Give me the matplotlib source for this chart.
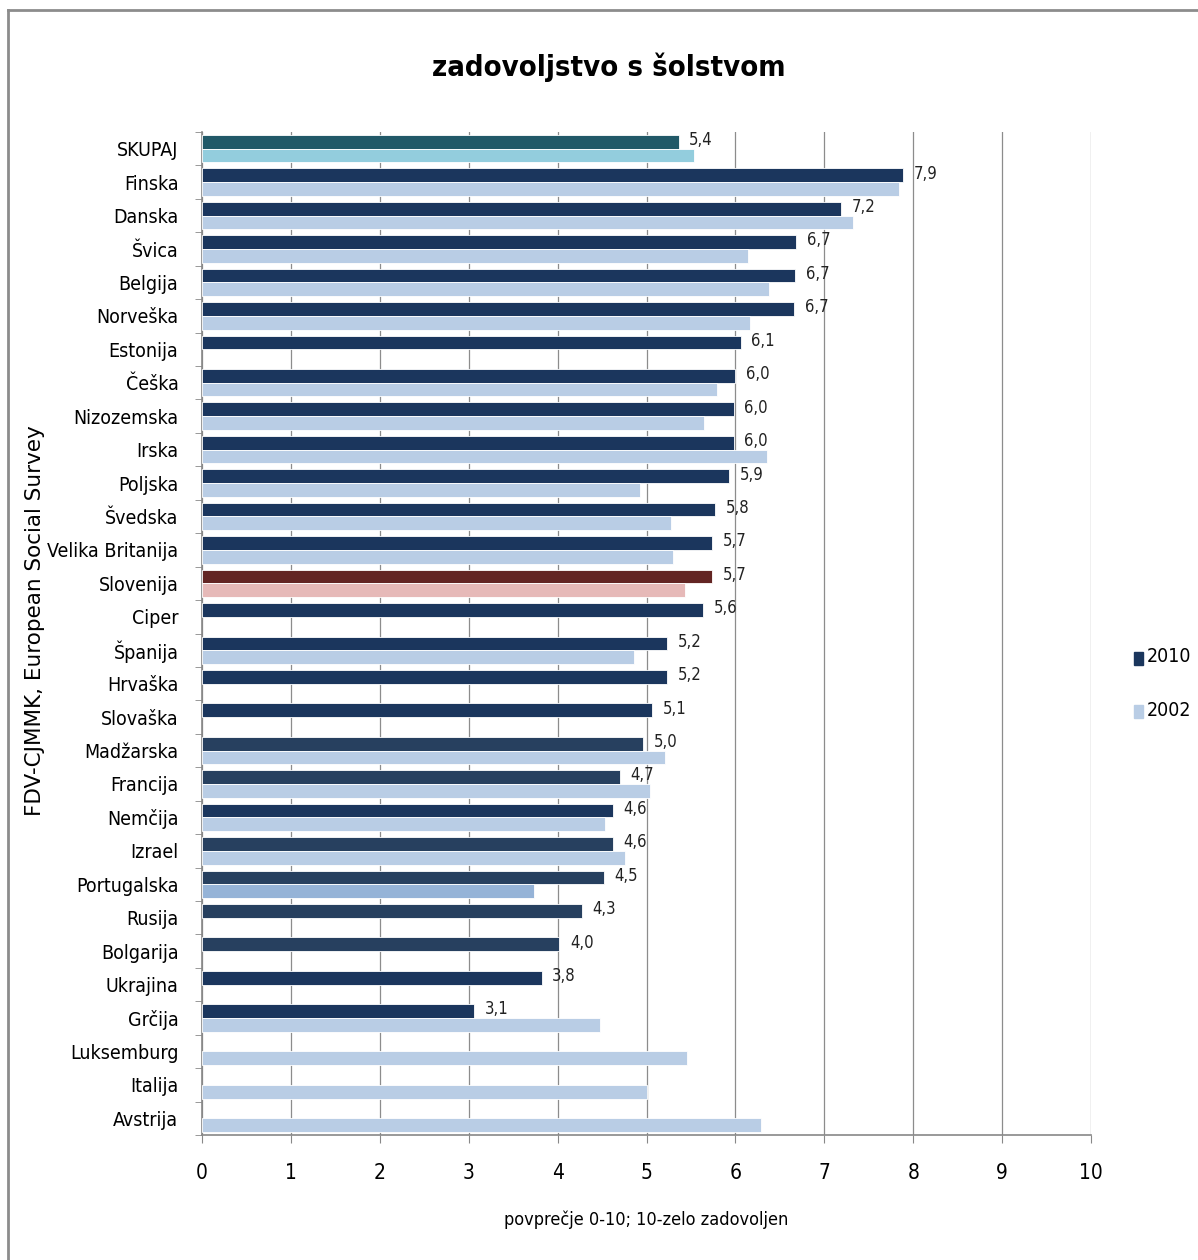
import matplotlib.pyplot as plt
from matplotlib import font_manager
import numpy as np

countries = ["SKUPAJ", "Finska", "Danska", "Švica", "Belgija", "Norveška", "Estonija",
             "Češka", "Nizozemska", "Irska", "Poljska", "Švedska", "Velika Britanija",
             "Slovenija", "Ciper", "Španija", "Hrvaška", "Slovaška", "Madžarska",
             "Francija", "Nemčija", "Izrael", "Portugalska", "Rusija", "Bolgarija",
             "Ukrajina", "Grčija", "Luksemburg", "Italija", "Avstrija"]
v2010 = [5.36, 7.89, 7.19, 6.68, 6.67, 6.66, 6.06, 6.00, 5.98, 5.98, 5.93, 5.77, 5.74,
         5.74, 5.64, 5.23, 5.23, 5.06, 4.96, 4.70, 4.62, 4.62, 4.52, 4.27, 4.02, 3.82,
         3.06, None, None, None]
v2002 = [5.53, 7.84, 7.32, 6.14, 6.38, 6.16, None, 5.79, 5.65, 6.36, 4.93, 5.28, 5.30,
         5.43, None, 4.86, None, None, 5.21, 5.04, 4.53, 4.76, 3.73, None, None, None,
         4.48, 5.46, 5.00, 6.29]
xticks = [0, 1, 2, 3, 4, 5, 6, 7, 8, 9, 10]

# look for a narrow font (the original uses Calibri, which is narrow)
files = [f.fname for f in font_manager.fontManager.ttflist]
files += font_manager.findSystemFonts()
reg = None
bold = None
for key in ["LiberationSansNarrow-Regular", "DejaVuSansCondensed.ttf"]:
    hit = [f for f in files if key in f]
    if hit:
        reg = hit[0]
        break
for key in ["LiberationSansNarrow-Bold.", "DejaVuSansCondensed-Bold.ttf"]:
    hit = [f for f in files if key in f]
    if hit:
        bold = hit[0]
        break


def fp(size, b=False):
    if b and bold:
        return font_manager.FontProperties(fname=bold, size=size)
    if not b and reg:
        return font_manager.FontProperties(fname=reg, size=size)
    return font_manager.FontProperties(family="Liberation Sans", size=size * 0.88,
                                       weight="bold" if b else "normal")


c10 = "#1B365D"
c02 = "#B9CDE5"
c10_list = [c10] * len(countries)
c02_list = [c02] * len(countries)
c10_list[0], c02_list[0] = "#215968", "#93CDDD"
c10_list[13], c02_list[13] = "#632523", "#E6B9B8"
for i in [18, 19, 21, 22, 23, 24]:
    c10_list[i] = "#27405F"
c02_list[22] = "#95B3D7"

fig = plt.figure(figsize=(11.98, 12.6), dpi=100)
ax = fig.add_axes([202 / 1198, 1 - 1135 / 1260, 889 / 1198, 1003 / 1260])

y = np.arange(len(countries))
h = 0.41
for i in range(len(countries)):
    if v2010[i] is not None:
        ax.barh(y[i] - h / 2, v2010[i], height=h, color=c10_list[i],
                edgecolor="white", linewidth=0.6, zorder=3)
        lab = ("%.1f" % v2010[i]).replace(".", ",")
        ax.text(v2010[i] + 0.12, y[i] - h / 2 - 0.05, lab, va="center", ha="left",
                fontproperties=fp(12), color="#222222", zorder=4)
    if v2002[i] is not None:
        ax.barh(y[i] + h / 2, v2002[i], height=h, color=c02_list[i],
                edgecolor="white", linewidth=0.6, zorder=3)

ax.set_xlim(0, 10)
ax.set_ylim(len(countries) - 0.5, -0.5)
ax.set_xticks(xticks)
ax.set_xticklabels([str(t) for t in xticks])
for t in ax.get_xticklabels():
    t.set_fontproperties(fp(15))
ax.set_yticks(y)
ax.set_yticklabels(countries)
for t in ax.get_yticklabels():
    t.set_fontproperties(fp(14))
ax.set_yticks(np.arange(len(countries) + 1) - 0.5, minor=True)
ax.tick_params(axis="y", which="major", length=0, pad=17)
ax.tick_params(axis="y", which="minor", length=5, color="#888888")
ax.tick_params(axis="x", length=6, color="#888888", pad=14)
ax.grid(axis="x", color="#8c8c8c", linewidth=0.9, zorder=0)
for s in ["top", "right"]:
    ax.spines[s].set_visible(False)
for s in ["left", "bottom"]:
    ax.spines[s].set_color("#888888")
    ax.spines[s].set_linewidth(1.2)

ax.set_xlabel("povprečje 0-10; 10-zelo zadovoljen", fontproperties=fp(13), labelpad=20)
fig.text(0.508, 1 - 67 / 1260, "zadovoljstvo s šolstvom", ha="center", va="center",
         fontproperties=fp(21, True))
fig.text(35 / 1198, 1 - 621 / 1260, "FDV-CJMMK, European Social Survey",
         rotation=90, ha="center", va="center", fontsize=15.5,
         family=["DejaVu Sans"])

# legend
fig.patches.append(plt.Rectangle((1134 / 1198, 1 - 665 / 1260), 9 / 1198, 13 / 1260,
                                 color=c10, transform=fig.transFigure))
fig.patches.append(plt.Rectangle((1134 / 1198, 1 - 718 / 1260), 9 / 1198, 13 / 1260,
                                 color=c02, transform=fig.transFigure))
fig.text(1147 / 1198, 1 - 657 / 1260, "2010", va="center", fontproperties=fp(14))
fig.text(1147 / 1198, 1 - 710 / 1260, "2002", va="center", fontproperties=fp(14))

# frame
fig.add_artist(plt.Line2D([8 / 1198, 8 / 1198], [0, 1 - 10 / 1260], color="#8c8c8c",
                          linewidth=2, transform=fig.transFigure))
fig.add_artist(plt.Line2D([8 / 1198, 1], [1 - 10 / 1260, 1 - 10 / 1260], color="#8c8c8c",
                          linewidth=2, transform=fig.transFigure))

fig.savefig("out.png", dpi=100)
